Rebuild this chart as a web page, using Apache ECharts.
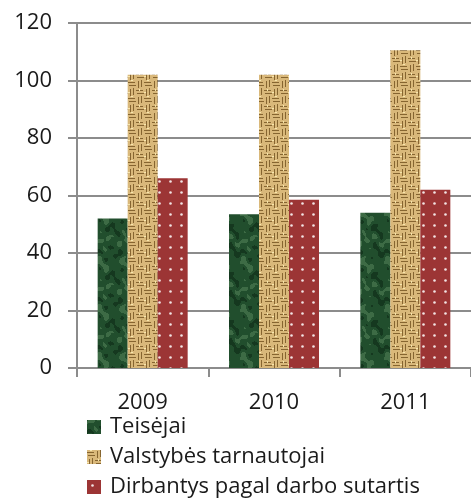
<!DOCTYPE html>
<html>
<head>
<meta charset="utf-8">
<script src="https://cdn.jsdelivr.net/npm/echarts@6/dist/echarts.min.js"></script>
<style>
  html, body { margin: 0; padding: 0; background: #fff; }
  #chart { width: 471px; height: 501px; }
</style>
</head>
<body>
<div id="chart"></div>
<script>
// duomenys
const years = ['2009', '2010', '2011']
const teisejai = [52, 53.5, 54]
const tarnautojai = [102, 102, 110.5]
const sutartis = [66, 58.5, 62]
const seriesNames = ['Teisėjai', 'Valstybės tarnautojai', 'Dirbantys pagal darbo sutartis']

// tekstūros
function makeCanvas(w, h) {
  const c = document.createElement('canvas')
  c.width = w
  c.height = h
  return c
}

// žalia "marmurinė"
function greenTexture() {
  const c = makeCanvas(48, 48)
  const ctx = c.getContext('2d')
  ctx.fillStyle = '#214e2d'
  ctx.fillRect(0, 0, 48, 48)
  const k = Math.PI * 2 / 48
  for (let y = 0; y < 48; y++) {
    for (let x = 0; x < 48; x++) {
      const v = Math.sin(x * k * 2 + Math.sin(y * k * 3) * 1.5) +
        Math.cos(y * k * 2 + Math.sin(x * k * 4) * 1.2) +
        0.5 * Math.sin((x * 5 - y * 3) * k)
      if (v > 1.1) {
        ctx.fillStyle = 'rgba(95,145,100,0.45)'
        ctx.fillRect(x, y, 1, 1)
      } else if (v < -1.2) {
        ctx.fillStyle = 'rgba(12,38,20,0.55)'
        ctx.fillRect(x, y, 1, 1)
      }
    }
  }
  return c
}

// maišo audinys
function burlapTexture() {
  const c = makeCanvas(16, 16)
  const ctx = c.getContext('2d')
  ctx.fillStyle = '#d9b87a'
  ctx.fillRect(0, 0, 16, 16)
  ctx.fillStyle = '#866530'
  for (let by = 0; by < 2; by++) {
    for (let bx = 0; bx < 2; bx++) {
      const ox = bx * 8, oy = by * 8
      if ((bx + by) % 2 === 0) {
        ctx.fillRect(ox, oy + 2, 7, 1)
        ctx.fillRect(ox + 1, oy + 5, 7, 1)
      } else {
        ctx.fillRect(ox + 2, oy + 1, 1, 7)
        ctx.fillRect(ox + 5, oy, 1, 7)
      }
    }
  }
  ctx.fillStyle = 'rgba(250,235,180,0.9)'
  ctx.fillRect(3, 0, 2, 1)
  ctx.fillRect(11, 9, 1, 2)
  ctx.fillRect(0, 12, 2, 1)
  return c
}

// raudona su taškais
function dotTexture() {
  const c = makeCanvas(11, 11)
  const ctx = c.getContext('2d')
  ctx.fillStyle = '#9c3535'
  ctx.fillRect(0, 0, 11, 11)
  ctx.fillStyle = '#f2e4e4'
  ctx.beginPath()
  ctx.arc(5.5, 5.5, 1.3, 0, Math.PI * 2)
  ctx.fill()
  return c
}

const fills = [
  { image: greenTexture(), repeat: 'repeat' },
  { image: burlapTexture(), repeat: 'repeat' },
  { image: dotTexture(), repeat: 'repeat' }
]

const font = '"Open Sans", Lato, sans-serif'
const gray = '#8c8c8c'

const options = {
  animation: false,
  grid: { left: 77, top: 23, right: -10, bottom: 133 },
  legend: {
    orient: 'vertical',
    left: 87,
    top: 416,
    padding: 0,
    itemWidth: 14,
    itemHeight: 14,
    itemGap: 8,
    icon: 'rect',
    data: seriesNames,
    textStyle: { fontFamily: font, fontSize: 22, color: '#1a1a1a', lineHeight: 22, padding: [0, 0, 0, 4] }
  },
  xAxis: {
    type: 'category',
    data: years,
    axisLine: { lineStyle: { color: gray, width: 2 } },
    axisTick: { show: true, length: 9, lineStyle: { color: gray, width: 2 } },
    axisLabel: { fontFamily: font, fontSize: 22, color: '#1a1a1a', margin: 24 }
  },
  yAxis: {
    type: 'value',
    min: 0,
    max: 120,
    interval: 20,
    axisLine: { show: true, lineStyle: { color: gray, width: 2 } },
    axisTick: { show: true, length: 9, lineStyle: { color: gray, width: 2 } },
    splitLine: { lineStyle: { color: gray, width: 2 } },
    axisLabel: { fontFamily: font, fontSize: 22, color: '#1a1a1a', margin: 25 }
  },
  series: [
    { name: seriesNames[0], type: 'bar', data: teisejai, barWidth: 30, barGap: '0%', itemStyle: { color: fills[0] } },
    { name: seriesNames[1], type: 'bar', data: tarnautojai, barWidth: 30, barGap: '0%', itemStyle: { color: fills[1] } },
    { name: seriesNames[2], type: 'bar', data: sutartis, barWidth: 30, barGap: '0%', itemStyle: { color: fills[2] } }
  ]
}

const chart = echarts.init(document.getElementById('chart'))
chart.setOption(options)
</script>
</body>
</html>
